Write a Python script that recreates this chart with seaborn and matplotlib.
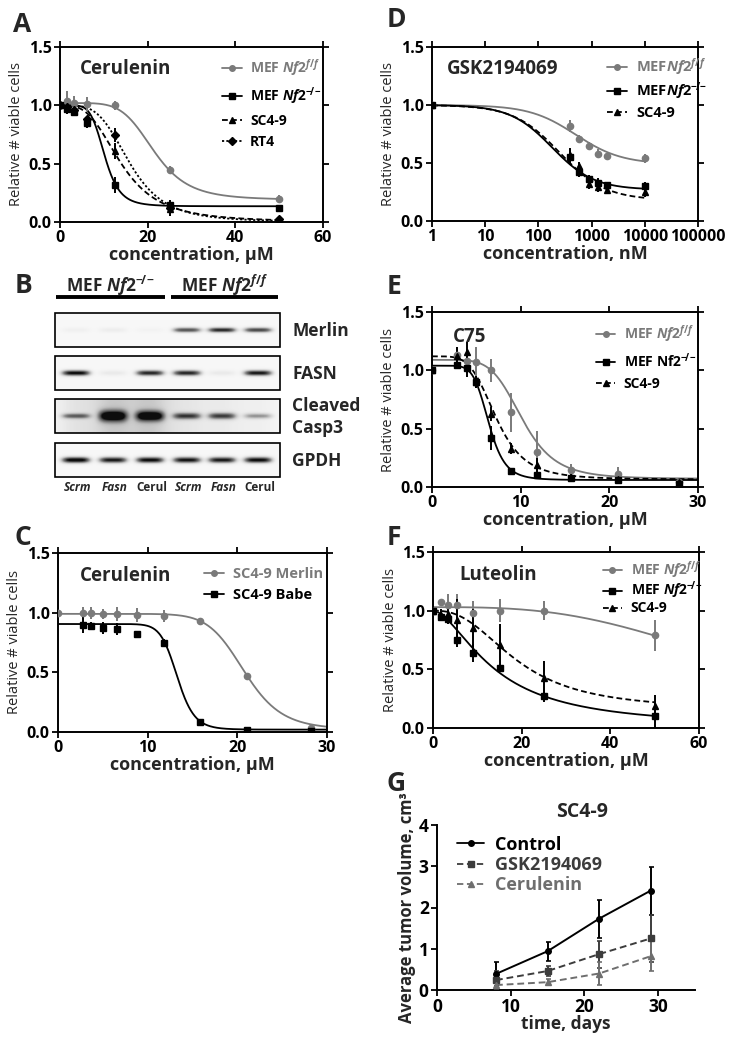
import numpy as np
import matplotlib
matplotlib.use("Agg")
import matplotlib.pyplot as plt
import seaborn as sns
from matplotlib.lines import Line2D
from matplotlib.patches import Rectangle

# ── Canvas ───────────────────────────────────────────────────────────────────
W_PX, H_PX = 734, 1040
GRAY = "#7a7a7a"
DARK = "#3c3c3c"
MID = "#6e6e6e"

# ── Data: A (cerulenin, MEF + SC4-9 + RT4) ───────────────────────────────────
A_X = [0, 1.5, 3.1, 6.25, 12.5, 25, 50]
A_FF = [1.0, 1.04, 1.02, 1.01, 1.0, 0.45, 0.20]
A_FF_ERR = [0.02, 0.08, 0.06, 0.06, 0.04, 0.03, 0.03]
A_KO = [1.0, 0.97, 0.94, 0.85, 0.32, 0.15, 0.12]
A_KO_ERR = [0.02, 0.04, 0.03, 0.04, 0.07, 0.04, 0.02]
A_SC = [1.0, 0.98, 0.95, 0.87, 0.61, 0.11, 0.02]
A_SC_ERR = [0.02, 0.03, 0.03, 0.03, 0.07, 0.06, 0.01]
A_RT = [1.0, 0.99, 0.96, 0.88, 0.75, 0.12, 0.03]
A_RT_ERR = [0.02, 0.03, 0.03, 0.03, 0.06, 0.04, 0.01]
# fitted 4PL (top, bottom, EC50, hill)
A_FIT = {"ff": (1.02, 0.19, 21.5, 5.5), "ko": (1.0, 0.135, 10.2, 6.0),
         "sc": (1.0, 0.0, 14.0, 3.2), "rt": (1.0, 0.0, 16.0, 4.0)}

# ── Data: C (cerulenin, SC4-9 Merlin vs Babe) ────────────────────────────────
C_X_MERLIN = [0, 2.8, 3.7, 5.0, 6.6, 8.8, 11.8, 15.8, 21.1, 28.2]
C_MERLIN = [1.0, 1.0, 1.0, 0.99, 0.99, 0.98, 0.97, 0.93, 0.47, 0.03]
C_MERLIN_ERR = [0.01, 0.05, 0.05, 0.04, 0.06, 0.06, 0.05, 0.02, 0.02, 0.02]
C_X_BABE = [2.8, 3.7, 5.0, 6.6, 8.8, 11.8, 15.8, 21.1, 28.2]
C_BABE = [0.90, 0.89, 0.87, 0.86, 0.82, 0.75, 0.08, 0.02, 0.01]
C_BABE_ERR = [0.07, 0.03, 0.05, 0.05, 0.03, 0.03, 0.01, 0.01, 0.01]
C_FIT = {"merlin": (0.99, 0.02, 20.8, 10.0), "babe": (0.905, 0.02, 13.3, 14.0)}

# ── Data: D (GSK2194069, nM) ─────────────────────────────────────────────────
D_X = [1, 390, 585, 880, 1320, 1980, 10000]
D_FF = [1.0, 0.82, 0.71, 0.65, 0.58, 0.56, 0.54]
D_FF_ERR = [0.01, 0.05, 0.03, 0.03, 0.04, 0.02, 0.04]
D_KO = [1.0, 0.55, 0.42, 0.36, 0.33, 0.31, 0.30]
D_KO_ERR = [0.01, 0.07, 0.04, 0.04, 0.04, 0.03, 0.04]
D_SC = [1.0, 0.57, 0.47, 0.32, 0.29, 0.27, 0.25]
D_SC_ERR = [0.01, 0.06, 0.04, 0.04, 0.04, 0.03, 0.04]
D_FIT = {"ff": (1.0, 0.49, 500.0, 1.0), "ko": (1.0, 0.27, 180.0, 1.1),
         "sc": (1.0, 0.18, 250.0, 1.0)}

# ── Data: E (C75) ────────────────────────────────────────────────────────────
E_X = [0, 2.85, 3.9, 5.0, 6.7, 8.9, 11.8, 15.7, 21, 27.9]
E_FF = [1.0, 1.13, 1.08, 1.07, 1.0, 0.64, 0.30, 0.15, 0.11, 0.04]
E_FF_ERR = [0.02, 0.07, 0.10, 0.13, 0.10, 0.17, 0.18, 0.05, 0.06, 0.02]
E_KO = [1.0, 1.05, 1.02, 0.90, 0.42, 0.14, 0.10, 0.08, 0.06, 0.03]
E_KO_ERR = [0.02, 0.04, 0.08, 0.05, 0.10, 0.02, 0.01, 0.01, 0.01, 0.02]
E_SC = [1.0, 1.12, 1.16, 0.90, 0.63, 0.33, 0.19, 0.09, 0.07, 0.04]
E_SC_ERR = [0.02, 0.08, 0.08, 0.05, 0.06, 0.05, 0.06, 0.02, 0.02, 0.01]
E_FIT = {"ff": (1.09, 0.07, 10.2, 5.5), "ko": (1.04, 0.06, 6.4, 7.0),
         "sc": (1.12, 0.065, 7.25, 4.5)}

# ── Data: F (luteolin) ───────────────────────────────────────────────────────
F_X = [0, 1.9, 3.4, 5.4, 9, 15, 25, 50]
F_FF = [1.0, 1.07, 1.05, 1.05, 0.98, 1.0, 1.0, 0.79]
F_FF_ERR = [0.01, 0.03, 0.09, 0.09, 0.10, 0.10, 0.08, 0.13]
F_KO = [1.0, 0.95, 0.93, 0.75, 0.64, 0.51, 0.27, 0.10]
F_KO_ERR = [0.01, 0.04, 0.04, 0.06, 0.08, 0.03, 0.05, 0.10]
F_SC = [1.0, 0.96, 0.97, 0.92, 0.85, 0.71, 0.43, 0.19]
F_SC_ERR = [0.01, 0.05, 0.04, 0.18, 0.16, 0.18, 0.14, 0.09]
F_FIT = {"ff": (1.03, 0.0, 74.0, 3.0), "ko": (1.0, 0.0, 14.0, 1.7),
         "sc": (1.0, 0.15, 19.0, 2.5)}

# ── Data: G (SC4-9 xenograft volume) ─────────────────────────────────────────
G_DAYS = [8, 15, 22, 29]
G_CONTROL = [0.39, 0.94, 1.73, 2.41]
G_CONTROL_ERR = [0.30, 0.23, 0.46, 0.58]
G_GSK = [0.24, 0.46, 0.87, 1.25]
G_GSK_ERR = [0.22, 0.13, 0.33, 0.56]
G_CER = [0.12, 0.19, 0.40, 0.82]
G_CER_ERR = [0.08, 0.08, 0.28, 0.37]

# ── Data: B (western blot band intensities, 0..1) ────────────────────────────
LANE_LABELS = ["Scrm", "Fasn", "Cerul", "Scrm", "Fasn", "Cerul"]
BLOT_ROWS = ["Merlin", "FASN", "Cleaved\nCasp3", "GPDH"]
BAND_MERLIN = [0.06, 0.08, 0.04, 0.70, 0.85, 0.75]
BAND_FASN = [0.95, 0.10, 0.85, 0.85, 0.10, 0.90]
BAND_CASP3 = [0.55, 1.0, 1.0, 0.70, 0.70, 0.40]
BAND_GPDH = [1.0, 0.90, 0.95, 0.92, 0.90, 0.95]
CASP3_SMEAR = [0.12, 0.25, 0.25, 0.10, 0.08, 0.06]

# ── Style ────────────────────────────────────────────────────────────────────
sns.set_theme(style="ticks")
plt.rcParams["font.family"] = ["Open Sans", "DejaVu Sans"]
plt.rcParams.update({
    "mathtext.fontset": "custom",
    "mathtext.rm": "Open Sans:bold",
    "mathtext.it": "Open Sans:italic:bold",
    "mathtext.bf": "Open Sans:bold",
    "axes.unicode_minus": False,
})

SUP_FF = r"^{f/f}"
SUP_KO = r"^{-\!/\!-}"
LBL_FF = r"MEF $\mathit{Nf2}" + SUP_FF + "$"
LBL_KO = r"MEF $\mathit{Nf2}" + SUP_KO + "$"

TICK_FS = 11.5
XLAB_FS = 13
YLAB_FS = 10.5
TITLE_FS = 13.5
LEG_FS = 10


def four_pl(x, top, bottom, ec50, hill):
    x = np.asarray(x, dtype=float)
    return bottom + (top - bottom) / (1.0 + (x / ec50) ** hill)


def px_axes(fig, left, top, right, bottom):
    return fig.add_axes([left / W_PX, 1 - bottom / H_PX,
                         (right - left) / W_PX, (bottom - top) / H_PX])


def style_box(ax, xticks, xlabels, yticks, ylabels, size=TICK_FS):
    ax.set_xticks(xticks, xlabels, fontweight="bold", fontsize=size)
    ax.set_yticks(yticks, ylabels, fontweight="bold", fontsize=size)
    for s in ax.spines.values():
        s.set_visible(True)
        s.set_linewidth(1.4)
        s.set_color("black")
    ax.tick_params(which="both", direction="out", top=True, right=True,
                   width=1.3, colors="black")
    ax.tick_params(which="major", length=4, pad=2)
    ax.tick_params(which="minor", length=2.2)


def series(ax, x, y, err, fit, grid, color, marker, ls, ms=4.5):
    sns.lineplot(x=grid, y=four_pl(grid, *fit), ax=ax, color=color, lw=1.3,
                 linestyle=ls, zorder=2)
    ax.errorbar(x, y, yerr=err, fmt=marker, color=color, ms=ms, mec=color,
                elinewidth=1.4, capsize=0, ls="none", zorder=3)


def add_legend(ax, entries, anchor, spacing, size=LEG_FS, hl=1.4):
    handles = [Line2D([], [], color=c, marker=m, ls=ls, lw=1.3, ms=4)
               for _, c, m, ls in entries]
    ax.legend(handles, [e[0] for e in entries], loc="upper left",
              bbox_to_anchor=anchor, frameon=False, borderpad=0,
              handlelength=hl, handletextpad=0.6, labelspacing=spacing,
              prop={"weight": "bold", "size": size},
              labelcolor=[e[1] for e in entries])


def labels(ax, xlabel):
    ax.set_ylabel("Relative # viable cells", fontsize=YLAB_FS, labelpad=3)
    ax.set_xlabel(xlabel, fontsize=XLAB_FS, fontweight="bold", labelpad=0)


DASH = (0, (3.2, 1.8))
DOT = (0, (1.2, 1.2))
Y_TICKS = [0, 0.5, 1.0, 1.5]
Y_LABELS = ["0.0", "0.5", "1.0", "1.5"]
XLAB_UM = "concentration, \u00b5M"

fig = plt.figure(figsize=(W_PX / 100, H_PX / 100), dpi=100)
ov = fig.add_axes([0, 0, 1, 1])
ov.set_axis_off()

# ── A ────────────────────────────────────────────────────────────────────────
ax = px_axes(fig, 60, 47, 323, 222)
grid = np.linspace(0, 50, 400)
series(ax, A_X, A_FF, A_FF_ERR, A_FIT["ff"], grid, GRAY, "o", "-")
series(ax, A_X, A_KO, A_KO_ERR, A_FIT["ko"], grid, "black", "s", "-")
series(ax, A_X, A_SC, A_SC_ERR, A_FIT["sc"], grid, "black", "^", DASH)
series(ax, A_X, A_RT, A_RT_ERR, A_FIT["rt"], grid, "black", "D", DOT, ms=3.8)
ax.set_xlim(0, 60)
ax.set_ylim(0, 1.5)
style_box(ax, [0, 20, 40, 60], ["0", "20", "40", "60"], Y_TICKS, Y_LABELS)
labels(ax, XLAB_UM)
ax.text(4.5, 1.31, "Cerulenin", fontsize=TITLE_FS, fontweight="bold", va="center")
add_legend(ax, [(LBL_FF, GRAY, "o", "-"), (LBL_KO, "black", "s", "-"),
                ("SC4-9", "black", "^", DASH), ("RT4", "black", "D", DOT)],
           (0.59, 0.98), 0.5)

# ── C ────────────────────────────────────────────────────────────────────────
ax = px_axes(fig, 58, 553, 327, 732)
grid = np.linspace(0, 30, 400)
series(ax, C_X_MERLIN, C_MERLIN, C_MERLIN_ERR, C_FIT["merlin"], grid, GRAY, "o", "-")
series(ax, C_X_BABE, C_BABE, C_BABE_ERR, C_FIT["babe"], grid, "black", "s", "-")
ax.set_xlim(0, 30)
ax.set_ylim(0, 1.5)
style_box(ax, [0, 10, 20, 30], ["0", "10", "20", "30"], Y_TICKS, Y_LABELS)
labels(ax, XLAB_UM)
ax.text(2.45, 1.31, "Cerulenin", fontsize=TITLE_FS, fontweight="bold", va="center")
add_legend(ax, [("SC4-9 Merlin", GRAY, "o", "-"), ("SC4-9 Babe", "black", "s", "-")],
           (0.515, 0.96), 0.45, size=10.5)

# ── D ────────────────────────────────────────────────────────────────────────
ax = px_axes(fig, 432, 47, 698, 221)
grid = np.logspace(0, 4, 400)
series(ax, D_X, D_FF, D_FF_ERR, D_FIT["ff"], grid, GRAY, "o", "-")
series(ax, D_X, D_KO, D_KO_ERR, D_FIT["ko"], grid, "black", "s", "-")
series(ax, D_X, D_SC, D_SC_ERR, D_FIT["sc"], grid, "black", "^", DASH)
ax.set_xscale("log")
ax.set_xlim(1, 1e5)
ax.set_ylim(0, 1.5)
style_box(ax, [1, 10, 100, 1000, 10000, 100000],
          ["1", "10", "100", "1000", "10000", "100000"], Y_TICKS, Y_LABELS)
labels(ax, "concentration, nM")
ax.text(1.9, 1.31, "GSK2194069", fontsize=TITLE_FS, fontweight="bold", va="center")
add_legend(ax, [(r"MEF$\mathit{Nf2}" + SUP_FF + "$", GRAY, "o", "-"),
                (r"MEF$\mathit{Nf2}" + SUP_KO + "$", "black", "s", "-"),
                ("SC4-9", "black", "^", DASH)],
           (0.63, 0.99), 0.25, size=10.5)

# ── E ────────────────────────────────────────────────────────────────────────
ax = px_axes(fig, 432, 312, 698, 487)
grid = np.linspace(0, 30, 400)
series(ax, E_X, E_FF, E_FF_ERR, E_FIT["ff"], grid, GRAY, "o", "-")
series(ax, E_X, E_KO, E_KO_ERR, E_FIT["ko"], grid, "black", "s", "-")
series(ax, E_X, E_SC, E_SC_ERR, E_FIT["sc"], grid, "black", "^", DASH)
ax.set_xlim(0, 30)
ax.set_ylim(0, 1.5)
style_box(ax, [0, 10, 20, 30], ["0", "10", "20", "30"], Y_TICKS, Y_LABELS)
labels(ax, XLAB_UM)
ax.text(2.4, 1.29, "C75", fontsize=TITLE_FS, fontweight="bold", va="center")
add_legend(ax, [(LBL_FF, GRAY, "o", "-"), (r"MEF Nf2$" + SUP_KO + "$", "black", "s", "-"),
                ("SC4-9", "black", "^", DASH)],
           (0.59, 0.975), 0.5)

# ── F ────────────────────────────────────────────────────────────────────────
ax = px_axes(fig, 433, 552, 699, 728)
grid = np.linspace(0, 50, 400)
series(ax, F_X, F_FF, F_FF_ERR, F_FIT["ff"], grid, GRAY, "o", "-")
series(ax, F_X, F_KO, F_KO_ERR, F_FIT["ko"], grid, "black", "s", "-")
series(ax, F_X, F_SC, F_SC_ERR, F_FIT["sc"], grid, "black", "^", DASH)
ax.set_xlim(0, 60)
ax.set_ylim(0, 1.5)
style_box(ax, [0, 20, 40, 60], ["0", "20", "40", "60"], Y_TICKS, Y_LABELS)
labels(ax, XLAB_UM)
ax.text(5.9, 1.30, "Luteolin", fontsize=TITLE_FS, fontweight="bold", va="center")
add_legend(ax, [(LBL_FF, GRAY, "o", "-"), (LBL_KO, "black", "s", "-"),
                ("SC4-9", "black", "^", DASH)],
           (0.612, 1.0), 0.0)

# ── G ────────────────────────────────────────────────────────────────────────
ax = px_axes(fig, 437, 825, 695, 990)
for y, err, color, marker, ls in [(G_CONTROL, G_CONTROL_ERR, "black", "o", "-"),
                                  (G_GSK, G_GSK_ERR, DARK, "s", (0, (3.5, 2))),
                                  (G_CER, G_CER_ERR, MID, "^", (0, (3.5, 2)))]:
    sns.lineplot(x=G_DAYS, y=y, ax=ax, color=color, lw=1.4, linestyle=ls, zorder=2)
    ax.errorbar(G_DAYS, y, yerr=err, fmt=marker, color=color, ms=4, mec=color,
                elinewidth=1.4, capsize=1.8, capthick=1.2, ls="none", zorder=3)
ax.set_xlim(0, 35)
ax.set_ylim(0, 4)
ax.set_xticks([0, 10, 20, 30], ["0", "10", "20", "30"], fontweight="bold", fontsize=12.5)
ax.set_yticks([0, 1, 2, 3, 4], ["0", "1", "2", "3", "4"], fontweight="bold", fontsize=12.5)
sns.despine(ax=ax)
for s in ("left", "bottom"):
    ax.spines[s].set_linewidth(1.4)
    ax.spines[s].set_color("black")
ax.tick_params(direction="out", width=1.3, length=4, pad=2, colors="black")
ax.set_ylabel("Average tumor volume, cm\u00b3", fontsize=12, fontweight="bold", labelpad=2)
ax.set_xlabel("time, days", fontsize=12.5, fontweight="bold", labelpad=-1)
ax.text(0.562, 1.08, "SC4-9", transform=ax.transAxes, ha="center", va="center",
        fontsize=14, fontweight="bold")
add_legend(ax, [("Control", "black", "o", "-"), ("GSK2194069", DARK, "s", (0, (3.5, 2))),
                ("Cerulenin", MID, "^", (0, (3.5, 2)))],
           (0.043, 0.99), 0.12, size=13, hl=1.5)

# ── B (western blot, drawn in figure pixel space) ────────────────────────────
BLOT_X0, BLOT_X1 = 55, 280
LANE_CX = [76, 113, 150, 187, 222, 258]
strips = [(313, 347, BAND_MERLIN, [2.5] * 6, [0.0] * 6),
          (356, 390, BAND_FASN, [2.8] * 6, [0.0] * 6),
          (399, 433, BAND_CASP3, [2.6, 5.5, 5.0, 3.2, 3.2, 2.6], CASP3_SMEAR),
          (443, 477, BAND_GPDH, [3.0] * 6, [0.0] * 6)]
xs = np.arange(BLOT_X0, BLOT_X1) + 0.5
for (y0, y1, amps, thick, smear), label in zip(strips, BLOT_ROWS):
    ys = np.arange(y0, y1) + 0.5
    yc = (y0 + y1) / 2
    img = np.full((ys.size, xs.size), 0.07)
    for cx, a, s, sm in zip(LANE_CX, amps, thick, smear):
        hx = np.exp(-((xs - cx) / 14.0) ** 4)
        img += sm * np.exp(-((xs - cx) / 22.0) ** 2)[None, :] * np.ones((ys.size, 1))
        img += a * np.exp(-((ys - yc) / s) ** 2)[:, None] * hx[None, :]
    ov.imshow(np.clip(img, 0, 1), extent=(BLOT_X0, BLOT_X1, y1, y0), cmap="Greys",
              vmin=0, vmax=1.05, aspect="auto", interpolation="bilinear")
    ov.add_patch(Rectangle((BLOT_X0, y0), BLOT_X1 - BLOT_X0, y1 - y0,
                           fill=False, lw=1.2, ec="black"))
    ov.text(292, yc + 1, label, fontsize=12.5, fontweight="bold", va="center",
            ha="left", linespacing=1.3)

ov.text(110, 292, LBL_KO, fontsize=12.5, fontweight="bold", ha="center", va="baseline")
ov.text(224.5, 292, LBL_FF, fontsize=12.5, fontweight="bold", ha="center", va="baseline")
ov.plot([56, 165], [297, 297], color="black", lw=2.8, solid_capstyle="butt")
ov.plot([171, 278], [297, 297], color="black", lw=2.8, solid_capstyle="butt")
for cx, lab in zip(LANE_CX, LANE_LABELS):
    style = "normal" if lab == "Cerul" else "italic"
    ov.text(cx + 2, 491, lab, fontsize=8.5, fontweight="bold", fontstyle=style,
            ha="center", va="baseline")

# ── Panel letters ────────────────────────────────────────────────────────────
for letter, x, y in [("A", 13, 32), ("B", 15, 293), ("C", 15, 545), ("D", 387, 27),
                     ("E", 387, 294), ("F", 387, 545), ("G", 387, 791)]:
    ov.text(x, y, letter, fontsize=19, fontweight="bold", va="baseline", ha="left")

ov.set_xlim(0, W_PX)
ov.set_ylim(H_PX, 0)

fig.savefig("out.png", dpi=100)
